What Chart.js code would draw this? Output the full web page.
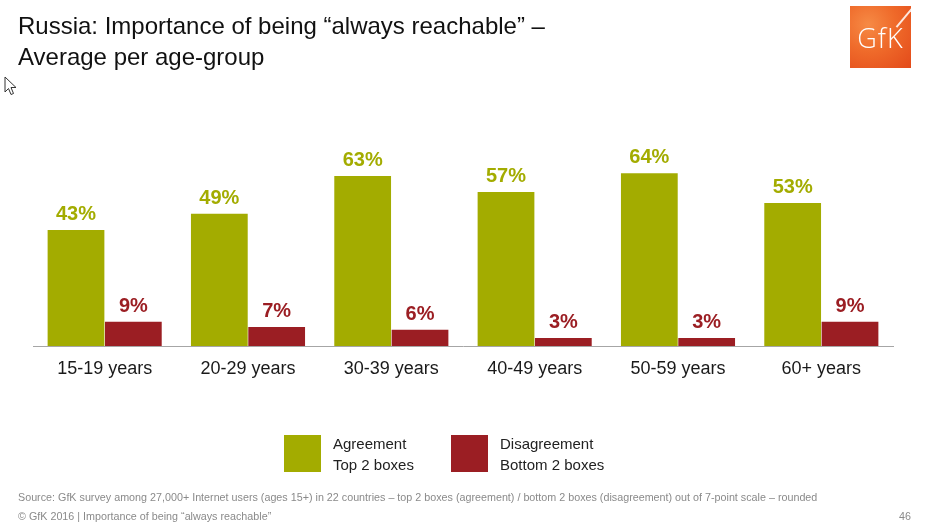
<!DOCTYPE html>
<html>
<head>
<meta charset="utf-8">
<script src="https://cdn.jsdelivr.net/npm/chart.js@4"></script>
<style>
  body { margin: 0; background: #fff; font-family: Arial, "Liberation Sans", sans-serif; }
  #page { position: relative; width: 933px; height: 527px; overflow: hidden; }
  #chart { position: absolute; left: 0; top: 0; }
  .title { position: absolute; left: 18px; top: 10px; font-size: 24px; line-height: 31px; color: #111; white-space: nowrap; }
  .logo { position: absolute; left: 850px; top: 6px; width: 61px; height: 62px;
          background: radial-gradient(circle at 30% 30%, #f68a45 0%, #ef6a2a 45%, #e34a1a 100%); overflow: hidden; }
  .logo span { position: absolute; left: 0; right: 0; top: 13px; text-align: center; color: #fff; font-size: 27px; letter-spacing: 1px; font-weight: 300; font-family: "Open Sans", Arial, sans-serif; }
  .logo i { position: absolute; left: 42px; top: 11px; width: 24px; height: 1.5px; background: rgba(255,255,255,0.85); transform: rotate(-50deg); }
  .legend { position: absolute; top: 435px; font-size: 15px; line-height: 21px; color: #222; }
  .legend b { position: absolute; left: 0; top: 0; width: 37px; height: 37px; }
  .legend div { position: absolute; left: 49px; top: -2px; white-space: nowrap; }
  .foot { position: absolute; font-size: 11px; color: #8a8a8a; white-space: nowrap; transform: scaleX(0.977); transform-origin: left top; }
</style>
</head>
<body>
<div id="page">
  <canvas id="chart" width="933" height="527"></canvas>
  <div class="title">Russia: Importance of being “always reachable” –<br>Average per age-group</div>
  <svg style="position:absolute;left:4px;top:76px" width="14" height="20" viewBox="0 0 14 20">
    <path d="M1 1 L1 16 L4.5 12.5 L7 18.5 L9.5 17.5 L7 11.5 L12 11.5 Z" fill="#fff" stroke="#333" stroke-width="1"/>
  </svg>
  <div class="logo"><span>GfK</span><i></i></div>
  <div class="legend" style="left:284px"><b style="background:#a3ac00"></b><div>Agreement<br>Top 2 boxes</div></div>
  <div class="legend" style="left:451px"><b style="background:#9b1e23"></b><div>Disagreement<br>Bottom 2 boxes</div></div>
  <div class="foot" style="left:18px;top:491px">Source: GfK survey among 27,000+ Internet users (ages 15+) in 22 countries – top 2 boxes (agreement) / bottom 2 boxes (disagreement) out of 7-point scale – rounded</div>
  <div class="foot" style="left:18px;top:510px">© GfK 2016 | Importance of being “always reachable”</div>
  <div class="foot" style="left:899px;top:510px">46</div>
</div>
<script>
const categories = ["15-19 years", "20-29 years", "30-39 years", "40-49 years", "50-59 years", "60+ years"];
const agreement = [43, 49, 63, 57, 64, 53];
const disagreement = [9, 7, 6, 3, 3, 9];

const green = "#a3ac00";
const red = "#9b1e23";

// value labels above each bar
const valueLabels = {
  id: "valueLabels",
  afterDatasetsDraw(chart) {
    const c = chart.ctx;
    c.save();
    c.font = "bold 20px Arial, 'Liberation Sans', sans-serif";
    c.textAlign = "center";
    c.textBaseline = "alphabetic";
    chart.data.datasets.forEach((ds, i) => {
      chart.getDatasetMeta(i).data.forEach((bar, j) => {
        c.fillStyle = ds.backgroundColor;
        c.fillText(ds.data[j] + "%", bar.x, bar.y - 10);
      });
    });
    c.restore();
  }
};

new Chart(document.getElementById("chart").getContext("2d"), {
  type: "bar",
  data: {
    labels: categories,
    datasets: [
      { label: "Agreement", data: agreement, backgroundColor: green },
      { label: "Disagreement", data: disagreement, backgroundColor: red }
    ]
  },
  options: {
    responsive: false,
    animation: false,
    layout: { padding: { left: 33, right: 40, top: 76, bottom: 141 } },
    datasets: { bar: { barPercentage: 0.99, categoryPercentage: 0.8 } },
    plugins: { legend: { display: false }, tooltip: { enabled: false } },
    scales: {
      x: {
        grid: { display: false },
        border: { display: true, color: "#a6a6a6", width: 1 },
        ticks: { color: "#1a1a1a", font: { size: 18, family: "Arial, 'Liberation Sans', sans-serif" }, padding: 4 },
        afterFit(scale) { scale.height = 40; }
      },
      y: { display: false, min: 0, max: 100 }
    }
  },
  plugins: [valueLabels]
});
</script>
</body>
</html>
